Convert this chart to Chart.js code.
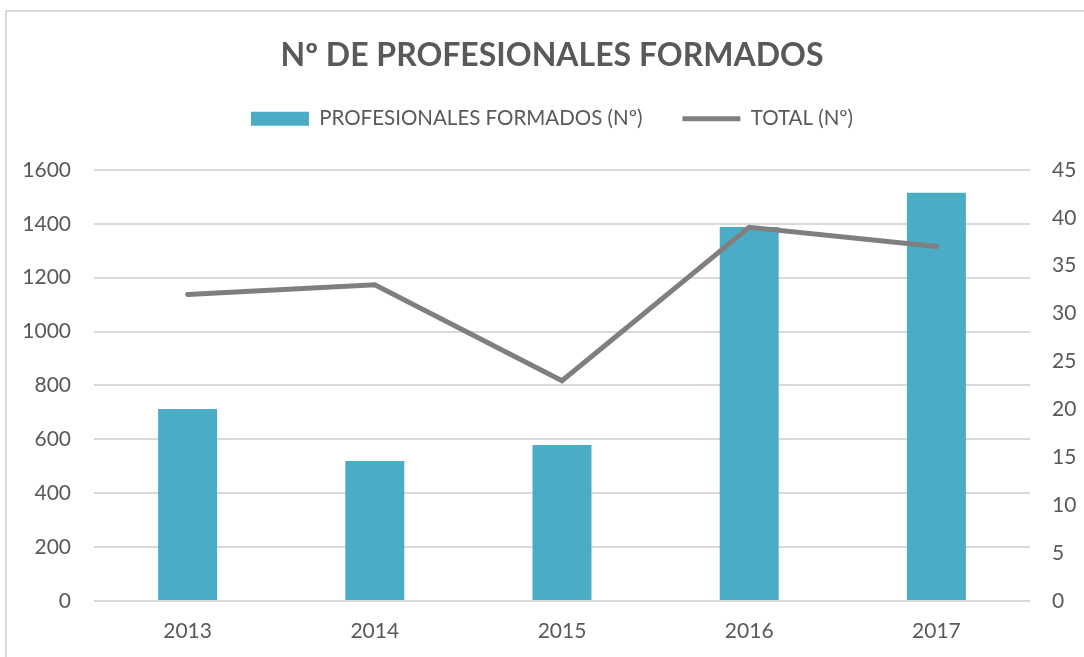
<!DOCTYPE html>
<html>
<head>
<meta charset="utf-8">
<script src="https://cdn.jsdelivr.net/npm/chart.js@4"></script>
<style>
  html, body { margin: 0; padding: 0; background: #fff; }
  #wrap { position: relative; width: 1084px; height: 657px; }
</style>
</head>
<body>
<div id="wrap"><canvas id="chart"></canvas></div>
<script>
// === DATA ===
const years = ['2013', '2014', '2015', '2016', '2017'];
const profesionales = [713, 520, 579, 1388, 1515];
const totales = [32, 33, 23, 39, 37];
const leftTicks = [0, 200, 400, 600, 800, 1000, 1200, 1400, 1600];
const rightTicks = [0, 5, 10, 15, 20, 25, 30, 35, 40, 45];

const COLORS = { bar: '#4bacc6', line: '#7f7f7f', text: '#595959', grid: '#d9d9d9' };
const FONT = 'Lato, "Open Sans", sans-serif';

// thin grey frame like the spreadsheet chart box
const frame = {
    id: 'frame',
    beforeDraw(chart) {
        const c = chart.ctx;
        c.save();
        c.strokeStyle = COLORS.grid;
        c.lineWidth = 2;
        c.strokeRect(6, 11, 1100, 700);
        c.restore();
    }
};

const ctx = document.getElementById('chart').getContext('2d');
new Chart(ctx, {
    data: {
        labels: years,
        datasets: [
            {
                type: 'line', label: 'TOTAL (Nº)', data: totales, yAxisID: 'y2', order: 0,
                borderColor: COLORS.line, backgroundColor: COLORS.line, borderWidth: 5,
                pointRadius: 0, pointStyle: 'line', tension: 0, borderCapStyle: 'round'
            },
            {
                type: 'bar', label: 'PROFESIONALES FORMADOS (Nº)', data: profesionales, yAxisID: 'y', order: 1,
                backgroundColor: COLORS.bar, borderWidth: 0, pointStyle: 'rect',
                categoryPercentage: 1, barPercentage: 0.315
            }
        ]
    },
    options: {
        responsive: true, maintainAspectRatio: false, animation: false,
        layout: { padding: { top: 28, left: 20, right: 0, bottom: 0 } },
        plugins: {
            title: {
                display: true, text: 'Nº DE PROFESIONALES FORMADOS', color: COLORS.text,
                font: { family: FONT, size: 32, weight: 'bold' }, padding: { top: 8, bottom: -6 }
            },
            // empty spacer between legend and plot area
            subtitle: {
                display: true, text: ' ', weight: 500, font: { size: 10 }, padding: { top: 0, bottom: 19 }
            },
            legend: {
                display: true, position: 'top', reverse: true,
                labels: {
                    color: COLORS.text, font: { family: FONT, size: 20.5 },
                    usePointStyle: true, pointStyleWidth: 58, boxHeight: 14, padding: 40
                }
            },
            tooltip: { enabled: false }
        },
        scales: {
            x: {
                grid: { display: false, drawTicks: false }, border: { display: false },
                ticks: { color: COLORS.text, font: { family: FONT, size: 21 }, padding: 18 },
                afterFit: axis => { axis.height = 56; }
            },
            y: {
                position: 'left', min: 0, max: 1600,
                afterBuildTicks: axis => { axis.ticks = leftTicks.map(v => ({ value: v })); },
                grid: { color: COLORS.grid, lineWidth: 2, drawTicks: false }, border: { display: false },
                ticks: { color: COLORS.text, font: { family: FONT, size: 21 }, padding: 23, callback: v => String(v) },
                afterFit: axis => { axis.width = 74; }
            },
            y2: {
                position: 'right', min: 0, max: 45,
                afterBuildTicks: axis => { axis.ticks = rightTicks.map(v => ({ value: v })); },
                grid: { display: false, drawTicks: false }, border: { display: false },
                ticks: { color: COLORS.text, font: { family: FONT, size: 21 }, padding: 22, callback: v => String(v) },
                afterFit: axis => { axis.width = 54; }
            }
        }
    },
    plugins: [frame]
});
</script>
</body>
</html>
